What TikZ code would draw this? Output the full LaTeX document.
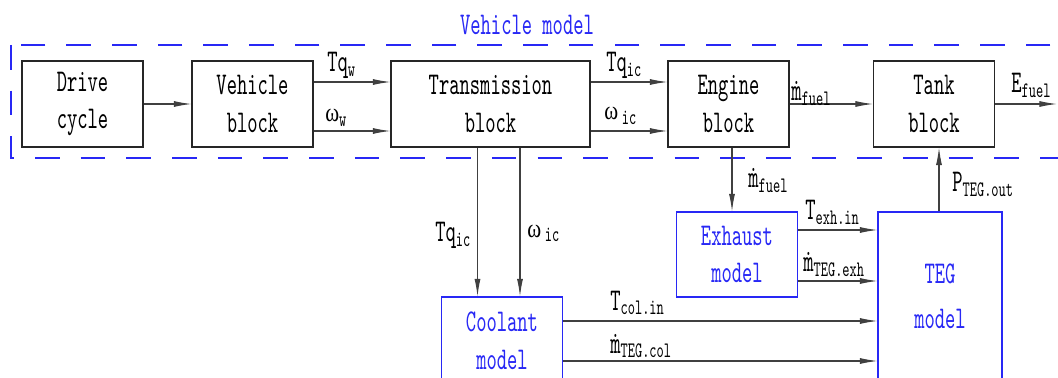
\documentclass[tikz,border=0pt]{standalone}
\usepackage{fontspec}
\setmainfont[FakeStretch=0.62]{lmmono10-regular.otf}
\newfontfamily\grk[FakeStretch=0.8]{Liberation Serif}
\usetikzlibrary{arrows.meta}
\definecolor{modelblue}{RGB}{40,40,245}
\newcommand{\omg}{{\grk\fontsize{15}{18}\selectfont ω}}
\tikzset{
  blockbox/.style={rectangle,draw=black!85,line width=0.6pt,
    minimum width=24.2mm,minimum height=17.2mm,inner sep=1pt,
    align=center,font=\fontsize{18}{21.5}\selectfont},
  modelbox/.style={blockbox,draw=modelblue,text=modelblue},
  sigline/.style={draw=black!75,line width=0.6pt,
    -{Latex[length=10pt,width=3.4pt]}},
  siglabel/.style={inner sep=0pt,anchor=base west,
    font=\fontsize{18}{20}\selectfont},
  groupframe/.style={draw=modelblue,line width=0.7pt,
    dash pattern=on 14pt off 12pt}
}
\begin{document}
\begin{tikzpicture}[x=0.02cm,y=-0.02cm]
  \useasboundingbox (0,0) rectangle (1058,378);

  % vehicle model frame
  \draw[groupframe] (11,45) rectangle (1080,158);
  \node[inner sep=0pt,text=modelblue,font=\fontsize{18}{20}\selectfont]
    (title) at (527,25) {Vehicle model};

  % upper row
  \node[blockbox] (drive) at (82.5,104) {Drive\\cycle};
  \node[blockbox] (vehicle) at (252.5,104) {Vehicle\\block};
  \node[blockbox,minimum width=39.8mm] (trans) at (490.5,104) {Transmission\\block};
  \node[blockbox] (engine) at (728.5,104) {Engine\\block};
  \node[blockbox] (tank) at (934,104) {Tank\\block};

  % lower row
  \node[modelbox,minimum height=17mm] (exhaust) at (737,254.5) {Exhaust\\model};
  \node[modelbox,minimum height=17.6mm] (coolant) at (502,341) {Coolant\\model};
  \node[modelbox,minimum width=24.8mm,minimum height=33.6mm] (teg) at (940,296) {TEG\\[4pt]model};

  % signals
  \draw[sigline] (drive.east) -- (vehicle.west);
  \draw[sigline] ([yshift=4.4mm]vehicle.east) -- ([yshift=4.4mm]trans.west);
  \draw[sigline] ([yshift=-5.4mm]vehicle.east) -- ([yshift=-5.4mm]trans.west);
  \draw[sigline] ([yshift=4.4mm]trans.east) -- ([yshift=4.4mm]engine.west);
  \draw[sigline] ([yshift=-5.4mm]trans.east) -- ([yshift=-5.4mm]engine.west);
  \draw[sigline] (engine.east) -- (tank.west);
  \coordinate (efuel) at (1057,104);
  \draw[sigline] (tank.east) -- (efuel);

  \coordinate (tqdown) at ([xshift=-2.6mm]trans.south);
  \coordinate (wdown) at ([xshift=5.9mm]trans.south);
  \draw[sigline] (tqdown) -- (tqdown |- coolant.north);
  \draw[sigline] (wdown) -- (wdown |- coolant.north);

  \coordinate (fueldown) at ([xshift=0.7mm]engine.south);
  \draw[sigline] (fueldown) -- (fueldown |- exhaust.north);
  \coordinate (pup) at ([xshift=-0.2mm]teg.north);
  \draw[sigline] (pup) -- (pup |- tank.south);

  \coordinate (texh) at ([yshift=4.9mm]exhaust.east);
  \coordinate (mexh) at ([yshift=-5.3mm]exhaust.east);
  \draw[sigline] (texh) -- (texh -| teg.west);
  \draw[sigline] (mexh) -- (mexh -| teg.west);
  \coordinate (tcol) at ([yshift=4mm]coolant.east);
  \coordinate (mcol) at ([yshift=-4mm]coolant.east);
  \draw[sigline] (tcol) -- (tcol -| teg.west);
  \draw[sigline] (mcol) -- (mcol -| teg.west);

  % signal names
  \node[siglabel] (tqw) at (327,72) {Tq\textsubscript{w}};
  \node[siglabel] (ww) at (325,122) {\omg\textsubscript{w}};
  \node[siglabel] (tqic) at (606,72) {Tq\textsubscript{ic}};
  \node[siglabel] (wic) at (604,120) {\omg\textsubscript{\,ic}};
  \node[siglabel] (mfuel) at (791,101) {\.m\textsubscript{fuel}};
  \node[siglabel] (efuellbl) at (1011,93) {E\textsubscript{fuel}};
  \node[siglabel] (mfueldown) at (748,188) {\.m\textsubscript{fuel}};
  \node[siglabel] (pteg) at (952,192) {P\textsubscript{TEG.out}};
  \node[siglabel] (texhlbl) at (805,220) {T\textsubscript{exh.in}};
  \node[siglabel] (mexhlbl) at (803,272) {\.m\textsubscript{TEG.exh}};
  \node[siglabel] (tqcol) at (435,242) {Tq\textsubscript{ic}};
  \node[siglabel] (wcol) at (527,237) {\omg\textsubscript{\,ic}};
  \node[siglabel] (tcollbl) at (610,310) {T\textsubscript{col.in}};
  \node[siglabel] (mcollbl) at (610,353) {\.m\textsubscript{TEG.col}};
\end{tikzpicture}
\end{document}
